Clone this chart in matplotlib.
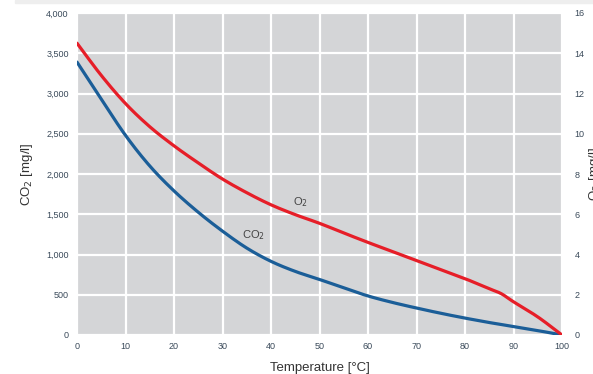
import matplotlib
matplotlib.use("Agg")
import numpy as np
import matplotlib.pyplot as plt
from matplotlib.patches import Rectangle
from matplotlib.ticker import FuncFormatter

temperature = [0, 5, 10, 15, 20, 25, 30, 35, 40, 45, 50, 55, 60, 65, 70, 75, 80, 85, 87.5, 90, 95, 100]
co2_mg_l = [3390, 2930, 2480, 2100, 1790, 1525, 1290, 1080, 915, 790, 690, 585, 485, 405,
            335, 270, 210, 155, 130, 105, 55, 0]
o2_mg_l = [14.5, 12.9, 11.5, 10.35, 9.4, 8.55, 7.75, 7.07, 6.47, 5.98, 5.55, 5.07, 4.6, 4.15,
           3.7, 3.25, 2.8, 2.3, 2.05, 1.65, 0.9, 0]

x_ticks = list(range(0, 101, 10))
left_ticks = list(range(0, 4001, 500))
right_ticks = list(range(0, 17, 2))


def smooth(x, y, n=12):
    """Catmull-Rom rendering through the read points (drawing only)."""
    x = np.asarray(x, float)
    y = np.asarray(y, float)
    px = np.concatenate([[2 * x[0] - x[1]], x, [2 * x[-1] - x[-2]]])
    py = np.concatenate([[2 * y[0] - y[1]], y, [2 * y[-1] - y[-2]]])
    xs, ys = [], []
    for i in range(1, len(px) - 2):
        t = np.linspace(0, 1, n, endpoint=False)
        for arr, out in ((px, xs), (py, ys)):
            p0, p1, p2, p3 = arr[i - 1], arr[i], arr[i + 1], arr[i + 2]
            out.extend(0.5 * ((2 * p1) + (-p0 + p2) * t + (2 * p0 - 5 * p1 + 4 * p2 - p3) * t ** 2
                              + (-p0 + 3 * p1 - 3 * p2 + p3) * t ** 3))
    xs.append(x[-1])
    ys.append(y[-1])
    return xs, ys


plt.rcParams['font.family'] = ['Liberation Sans', 'DejaVu Sans']

W, H = 593, 374
fig = plt.figure(figsize=(W / 100, H / 100), dpi=100)
fig.patches.append(Rectangle((15 / W, 1 - 3 / H), 1, 3 / H, transform=fig.transFigure,
                             color='#eeeeee', zorder=0))

ax = fig.add_axes([77 / W, 1 - 335 / H, 485 / W, 322 / H])
ax.set_facecolor('#d4d5d7')
for s in ax.spines.values():
    s.set_visible(False)

ax.set_xlim(0, 100)
ax.set_ylim(0, 4000)
ax.set_xticks(x_ticks)
ax.set_yticks(left_ticks)
ax.grid(True, color='white', linewidth=1.6)
ax.set_axisbelow(True)
ax.yaxis.set_major_formatter(FuncFormatter(lambda v, p: f"{int(v):,}"))

tick_color = '#3a4a5a'
ax.tick_params(axis='both', length=0, labelsize=6.5, colors=tick_color)
ax.tick_params(axis='y', pad=6)
ax.tick_params(axis='x', pad=5)

red = '#e61e28'
blue = '#1b5e98'

sx, sy = smooth(temperature, co2_mg_l)
ax.plot(sx, sy, color=blue, linewidth=2.3, solid_capstyle='round', zorder=3)

ax2 = ax.twinx()
for s in ax2.spines.values():
    s.set_visible(False)
ax2.set_ylim(0, 16)
ax2.set_yticks(right_ticks)
ax2.tick_params(axis='y', length=0, labelsize=6.5, colors=tick_color, pad=9)
ox, oy = smooth(temperature, o2_mg_l)
ax2.plot(ox, oy, color=red, linewidth=2.3, solid_capstyle='round', zorder=3)

ax.text(46, 1650, 'O$_2$', fontsize=8, color='#444444', ha='center', va='center', zorder=4)
ax.text(36.3, 1245, 'CO$_2$', fontsize=8, color='#444444', ha='center', va='center', zorder=4)

ax.set_xlabel('Temperature [°C]', fontsize=9.5, color='#333333', labelpad=8)
ax.set_ylabel('CO$_2$ [mg/l]', fontsize=9.5, color='#333333', labelpad=8)
ax2.set_ylabel('O$_2$ [mg/l]', fontsize=9.5, color='#333333', labelpad=2)

fig.savefig('out.png', dpi=100)
